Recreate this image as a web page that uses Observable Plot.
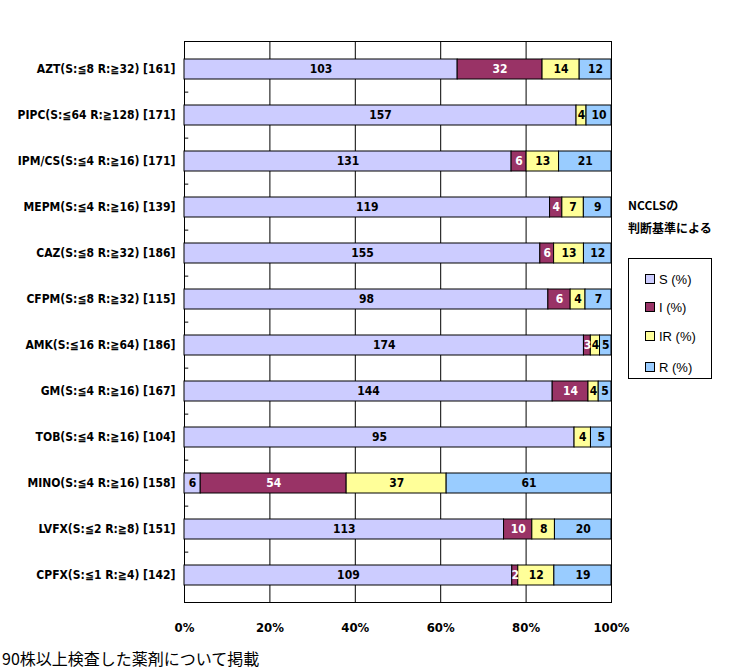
<!DOCTYPE html>
<html><head><meta charset="utf-8">
<script src="https://cdn.jsdelivr.net/npm/d3@7"></script>
<script src="https://cdn.jsdelivr.net/npm/@observablehq/plot@0.6"></script>
<style>
body{margin:0;background:#fff;}
#wrap{position:relative;width:737px;height:671px;overflow:hidden;}
#note{position:absolute;left:628px;top:193px;font:bold 12px "Liberation Sans Narrow","Noto Sans CJK JP",sans-serif;line-height:23px;}
#legend{position:absolute;left:628px;top:258px;width:84px;height:121px;border:1px solid #000;box-sizing:border-box;font:13px "Liberation Sans","Noto Sans CJK JP",sans-serif;}
.li{position:absolute;left:16px;height:14px;display:flex;align-items:center;}
.sw{width:8px;height:8px;border:1px solid #000;margin-right:4px;}
#cap{position:absolute;left:2px;top:646px;font:16px "Noto Sans CJK JP",sans-serif;}
</style></head>
<body><div id="wrap"><div id="chart"></div>
<div id="note">NCCLSの<br>判断基準による</div>
<div id="legend"></div>
<div id="cap">90株以上検査した薬剤について掲載</div></div>
<script>
const drugs = ["AZT(S:≦8 R:≧32) [161]","PIPC(S:≦64 R:≧128) [171]","IPM/CS(S:≦4 R:≧16) [171]","MEPM(S:≦4 R:≧16) [139]","CAZ(S:≦8 R:≧32) [186]","CFPM(S:≦8 R:≧32) [115]","AMK(S:≦16 R:≧64) [186]","GM(S:≦4 R:≧16) [167]","TOB(S:≦4 R:≧16) [104]","MINO(S:≦4 R:≧16) [158]","LVFX(S:≦2 R:≧8) [151]","CPFX(S:≦1 R:≧4) [142]"];
const cats = ["S (%)","I (%)","IR (%)","R (%)"];
const colors = ["#CCCCFF","#993366","#FFFF99","#99CCFF"];
const S  = [103,157,131,119,155,98,174,144,95,6,113,109];
const I  = [32,0,6,4,6,6,3,14,0,54,10,2];
const IR = [14,4,13,7,13,4,4,4,4,37,8,12];
const R  = [12,10,21,9,12,7,5,5,5,61,20,19];
const xTicks = [0,0.2,0.4,0.6,0.8,1];

const series = [S,I,IR,R];
const data = [];
drugs.forEach((d,i)=>cats.forEach((c,j)=>data.push({drug:d,cat:c,count:series[j][i]})));
const labelData = data.filter(d=>d.count>0);

const H = 645, mT = 41, mB = 43;
const step = (H - mT - mB) / drugs.length;

const font = '"Liberation Sans Narrow","DejaVu Sans Condensed","Noto Sans CJK JP",sans-serif';
const chart = Plot.plot({
  width:737, height:H,
  marginLeft:184, marginRight:126, marginTop:mT, marginBottom:mB,
  style:{fontFamily:font, fontSize:"12px", fontWeight:"bold", color:"#000", background:"#fff"},
  x:{domain:[0,1], ticks:xTicks, tickFormat:d3.format(".0%")},
  y:{domain:drugs, paddingInner:0.57, paddingOuter:0.285},
  color:{domain:cats, range:colors},
  marks:[
    Plot.frame({stroke:"#000"}),
    Plot.gridX(xTicks,{stroke:"#000", strokeOpacity:1}),
    Plot.ruleY(drugs.slice(1),{y:d=>d, x1:0, x2:0.01, dy:-step/2, stroke:"#000"}),
    Plot.barX(data, Plot.stackX({x:"count", y:"drug", fill:"cat", order:cats, offset:"normalize", stroke:"#000", strokeWidth:1, inset:0})),
    Plot.text(labelData, Plot.stackX({x:"count", y:"drug", z:"cat", order:cats, offset:"normalize", text:"count", fill:d=>d.cat==="I (%)"?"#fff":"#000", fontWeight:"bold", fontSize:12})),
    Plot.axisX({ticks:xTicks, tickFormat:d3.format(".0%"), tickSize:0, tickPadding:20, fontSize:13, fontWeight:"bold", label:null}),
    Plot.axisY({tickSize:0, tickPadding:9, fontSize:12, fontWeight:"bold", label:null})
  ]
});
document.getElementById("chart").appendChild(chart);

const lg = document.getElementById("legend");
const tops = [13,41,70,101];
cats.forEach((c,i)=>{
  const el = document.createElement("div");
  el.className="li"; el.style.top=tops[i]+"px";
  el.innerHTML = `<span class="sw" style="background:${colors[i]}"></span><span>${c}</span>`;
  lg.appendChild(el);
});
</script></body></html>
